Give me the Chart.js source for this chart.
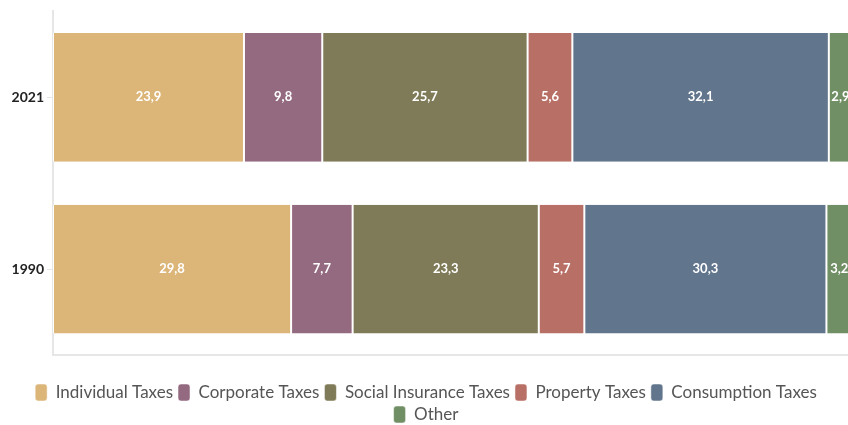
<!DOCTYPE html>
<html>
<head>
<meta charset="utf-8">
<script src="https://cdn.jsdelivr.net/npm/chart.js@4.4.1/dist/chart.umd.min.js"></script>
<style>
  html, body { margin: 0; padding: 0; background: #fff; overflow: hidden; }
  #wrap { width: 852px; height: 425px; position: relative; }
</style>
</head>
<body>
<div id="wrap"><canvas id="chart"></canvas></div>
<script>
const anos = ['2021', '1990'];
const individual = [23.9, 29.8];
const corporate = [9.8, 7.7];
const socialInsurance = [25.7, 23.3];
const property = [5.6, 5.7];
const consumption = [32.1, 30.3];
const other = [2.9, 3.2];

const series = [
    { label: 'Individual Taxes', data: individual, color: '#dcb579' },
    { label: 'Corporate Taxes', data: corporate, color: '#936a80' },
    { label: 'Social Insurance Taxes', data: socialInsurance, color: '#7f7b58' },
    { label: 'Property Taxes', data: property, color: '#b87066' },
    { label: 'Consumption Taxes', data: consumption, color: '#61758c' },
    { label: 'Other', data: other, color: '#718f65' }
];

const FONT = 'Lato, "Noto Sans", sans-serif';

// rótulos dentro das barras (sem plugin datalabels disponível)
const rotulos = {
    id: 'rotulos',
    afterDatasetsDraw(chart) {
        const ctx = chart.ctx;
        ctx.save();
        ctx.font = 'bold 13px ' + FONT;
        ctx.fillStyle = '#ffffff';
        ctx.textAlign = 'center';
        ctx.textBaseline = 'middle';
        chart.data.datasets.forEach((ds, i) => {
            chart.getDatasetMeta(i).data.forEach((bar, j) => {
                const v = ds.data[j];
                const cx = (bar.x + bar.base) / 2;
                ctx.fillText(String(v).replace('.', ','), cx, bar.y);
            });
        });
        ctx.restore();
    }
};

new Chart(document.getElementById('chart'), {
    type: 'bar',
    data: {
        labels: anos,
        datasets: series.map(s => ({
            label: s.label,
            data: s.data,
            backgroundColor: s.color,
            borderColor: '#ffffff',
            borderWidth: { left: 1, right: 1, top: 0, bottom: 0 },
            borderSkipped: false,
            borderRadius: 0,
            categoryPercentage: 0.75,
            barPercentage: 1
        }))
    },
    options: {
        indexAxis: 'y',
        responsive: true,
        maintainAspectRatio: false,
        animation: false,
        layout: { padding: { top: 2, right: 0, left: 0, bottom: -8 } },
        plugins: {
            legend: {
                position: 'bottom',
                labels: {
                    color: '#555555',
                    font: { family: FONT, size: 17 },
                    boxWidth: 12,
                    boxHeight: 17,
                    useBorderRadius: true,
                    borderRadius: 3,
                    padding: 5
                }
            },
            tooltip: { enabled: false }
        },
        scales: {
            x: {
                stacked: true,
                min: 0,
                max: 100,
                ticks: { display: false },
                grid: { display: false, drawTicks: false },
                border: { color: '#e6e6e6', width: 2 },
                afterFit(axis) { axis.height = 24; }
            },
            y: {
                stacked: true,
                ticks: { color: '#222222', font: { family: FONT, size: 14, weight: 'bold' }, padding: 3 },
                grid: { offset: false, drawOnChartArea: false, drawTicks: true, tickLength: 6, color: '#e6e6e6' },
                border: { color: '#e6e6e6', width: 2 },
                afterFit(axis) { axis.width = 53; }
            }
        }
    },
    plugins: [rotulos]
});
</script>
</body>
</html>
